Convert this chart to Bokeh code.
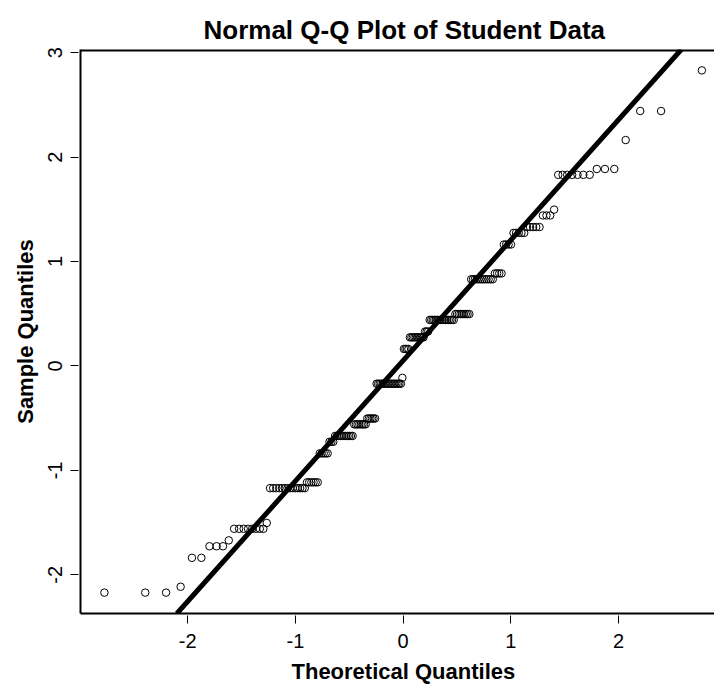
import math
from statistics import NormalDist

from bokeh.plotting import figure
from bokeh.models import Range1d, FixedTicker, Slope, Span, Title
from bokeh.embed import file_html
from bokeh.resources import INLINE

# ---- data (standardised student scores, sorted levels and counts)
sample_levels = [-2.170, -2.114, -1.837, -1.726, -1.670, -1.559, -1.503,
                 -1.170, -1.114, -0.837, -0.726, -0.670, -0.559, -0.503,
                 -0.170, -0.114, 0.163, 0.274, 0.330, 0.441, 0.497,
                 0.830, 0.886, 1.163, 1.274, 1.330, 1.441, 1.497,
                 1.830, 1.886, 2.163, 2.441, 2.830]
level_counts = [3, 1, 2, 3, 1, 8, 1,
                14, 6, 5, 3, 11, 8, 6,
                17, 1, 4, 10, 3, 16, 9,
                12, 4, 4, 5, 5, 3, 1,
                7, 3, 1, 2, 1]
x_ticks = [-2, -1, 0, 1, 2]
y_ticks = [-2, -1, 0, 1, 2, 3]
title_text = "Normal Q-Q Plot of Student Data"
x_label = "Theoretical Quantiles"
y_label = "Sample Quantiles"
x_view_end = 2.89  # the reference picture is cropped on the right

# ---- Q-Q construction (as R's qqnorm / qqline)
sample = []
for v, c in zip(sample_levels, level_counts):
    sample += [v] * c
n = len(sample)
nd = NormalDist()
a = 0.5 if n > 10 else 3 / 8
theo = [nd.inv_cdf((i + 1 - a) / (n + 1 - 2 * a)) for i in range(n)]


def quantile7(data, p):
    h = (len(data) - 1) * p
    lo = math.floor(h)
    hi = min(lo + 1, len(data) - 1)
    return data[lo] + (h - lo) * (data[hi] - data[lo])


qy1, qy2 = quantile7(sample, 0.25), quantile7(sample, 0.75)
qx1, qx2 = nd.inv_cdf(0.25), nd.inv_cdf(0.75)
slope = (qy2 - qy1) / (qx2 - qx1)
intercept = qy1 - slope * qx1

xr = max(theo) - min(theo)
x_start = min(theo) - 0.04 * xr
yr = max(sample) - min(sample)
y_start = min(sample) - 0.04 * yr
y_end = max(sample) + 0.04 * yr

W, H = 714, 692
BL, BR, BT, BB = 80, 0, 49, 79

p = figure(width=W, height=H,
           x_range=Range1d(x_start, x_view_end), y_range=Range1d(y_start, y_end),
           output_backend="svg", toolbar_location=None,
           min_border_left=BL, min_border_right=BR, min_border_top=BT, min_border_bottom=BB,
           background_fill_color="white", border_fill_color="white")
p.outline_line_color = None
p.grid.visible = False

p.title.text = title_text
p.title.align = "left"
p.title.offset = 123
p.title.standoff = 10
p.title.text_font = "Liberation Sans"
p.title.text_font_style = "bold"
p.title.text_font_size = "26px"
p.title.text_color = "black"

p.scatter(theo, sample, marker="circle", size=7.5, fill_color=None,
          line_color="black", line_width=1)
p.add_layout(Slope(gradient=slope, y_intercept=intercept,
                   line_color="black", line_width=5))
p.add_layout(Span(location=y_end, dimension="width",
                  line_color="black", line_width=4))

p.xaxis.ticker = FixedTicker(ticks=x_ticks)
p.yaxis.ticker = FixedTicker(ticks=y_ticks)
p.xaxis.major_label_overrides = {t: str(t) for t in x_ticks}
p.yaxis.major_label_overrides = {t: str(t) for t in y_ticks}
p.yaxis.axis_label = y_label
for ax in (p.xaxis[0], p.yaxis[0]):
    ax.axis_line_color = "black"
    ax.axis_line_width = 2
    ax.major_tick_in = -2
    ax.major_tick_out = 10
    ax.major_tick_line_color = "black"
    ax.major_tick_line_width = 1
    ax.minor_tick_line_color = None
    ax.major_label_text_font = "Liberation Sans"
    ax.major_label_text_font_size = "20px"
    ax.major_label_text_color = "black"
    ax.axis_label_text_font = "Liberation Sans"
    ax.axis_label_text_font_style = "bold"
    ax.axis_label_text_font_size = "22px"
    ax.axis_label_text_color = "black"
p.yaxis.major_label_orientation = "vertical"
p.xaxis.major_label_standoff = 10
p.yaxis.major_label_standoff = 8
p.yaxis.axis_label_standoff = 8

x_title = Title(text=x_label, align="left", offset=211, standoff=13,
                text_font="Liberation Sans", text_font_style="bold",
                text_font_size="22px", text_color="black")
p.add_layout(x_title, "below")

open("out.html", "w").write(file_html(p, INLINE))
